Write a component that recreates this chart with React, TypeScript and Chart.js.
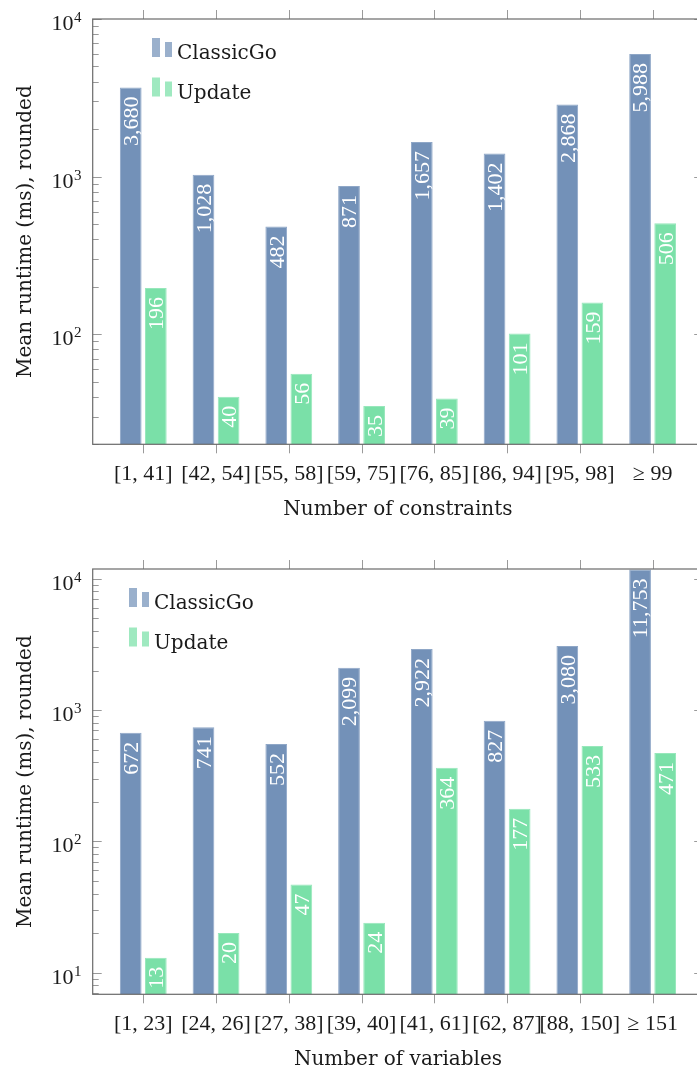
import React, { useEffect, useRef } from 'react';
import { Chart, registerables } from 'chart.js';

Chart.register(...registerables);

// ---------- data ----------
const seriesNames = ['ClassicGo', 'Update'];

const constraintLabels = ['[1, 41]', '[42, 54]', '[55, 58]', '[59, 75]', '[76, 85]', '[86, 94]', '[95, 98]', '≥ 99'];
const constraintsClassicGo = [3680, 1028, 482, 871, 1657, 1402, 2868, 5988];
const constraintsUpdate = [196, 40, 56, 35, 39, 101, 159, 506];

const variableLabels = ['[1, 23]', '[24, 26]', '[27, 38]', '[39, 40]', '[41, 61]', '[62, 87]', '[88, 150]', '≥ 151'];
const variablesClassicGo = [672, 741, 552, 2099, 2922, 827, 3080, 11753];
const variablesUpdate = [13, 20, 47, 24, 364, 177, 533, 471];

const yTitle = 'Mean runtime (ms), rounded';

// ---------- style ----------
const BLUE = '#7391B8';
const BLUE_EDGE = '#8FA7C7';
const GREEN = '#7AE0A8';
const GREEN_EDGE = '#97E7BB';
const TEXT = '#1a1a1a';
const FRAME = '#6a6a6a';
const TICK = '#9a9a9a';
const CANVAS_W = 712;

type Panel = {
  labels: string[];
  classic: number[];
  update: number[];
  yMin: number;
  yMax: number;
  xTitle: string;
  height: number;
  padTop: number;
  xAxisHeight: number;
  xTitleBottom: number;
  legendDx: number;
};

function decorPlugin(p: Panel) {
  return {
    id: 'decor',
    afterDatasetsDraw(chart: any) {
      const ctx = chart.ctx;
      ctx.save();
      ctx.fillStyle = '#ffffff';
      ctx.font = '22px "Liberation Serif"';
      ctx.textAlign = 'right';
      ctx.textBaseline = 'alphabetic';
      chart.data.datasets.forEach((ds: any, di: number) => {
        const meta = chart.getDatasetMeta(di);
        meta.data.forEach((bar: any, i: number) => {
          const v = ds.data[i].y as number;
          const text = v.toLocaleString('en-US');
          ctx.save();
          ctx.translate(bar.x + 7.4, bar.y + 9);
          ctx.rotate(-Math.PI / 2);
          ctx.fillText(text, 0, 0);
          ctx.restore();
        });
      });
      ctx.restore();
    },
    afterDraw(chart: any) {
      const { ctx, chartArea: a, scales } = chart;
      const ys = scales.y;
      const xs = scales.x;
      ctx.save();
      // ticks
      ctx.strokeStyle = TICK;
      ctx.lineWidth = 1;
      ctx.beginPath();
      const lo = Math.floor(Math.log10(p.yMin));
      const hi = Math.ceil(Math.log10(p.yMax));
      for (let e = lo; e <= hi; e++) {
        for (let m = 1; m <= 9; m++) {
          const v = m * Math.pow(10, e);
          if (v < p.yMin || v > p.yMax * 1.0001) continue;
          const py = Math.round(ys.getPixelForValue(v)) + 0.5;
          const len = m === 1 ? 9 : 6;
          ctx.moveTo(a.left, py);
          ctx.lineTo(a.left + len, py);
          ctx.moveTo(a.right, py);
          ctx.lineTo(a.right - len, py);
        }
      }
      for (let i = 0; i < p.labels.length; i++) {
        const px = Math.round(xs.getPixelForValue(i)) + 0.5;
        ctx.moveTo(px, a.top);
        ctx.lineTo(px, a.top - 9);
        ctx.moveTo(px, a.bottom);
        ctx.lineTo(px, a.bottom + 9);
      }
      ctx.stroke();
      // frame
      ctx.strokeStyle = FRAME;
      ctx.lineWidth = 1.2;
      ctx.strokeRect(a.left, a.top, a.right - a.left, a.bottom - a.top);
      // y tick labels (10^e)
      ctx.fillStyle = TEXT;
      ctx.textBaseline = 'alphabetic';
      for (let e = lo; e <= hi; e++) {
        const v = Math.pow(10, e);
        if (v < p.yMin || v > p.yMax * 1.0001) continue;
        const py = ys.getPixelForValue(v);
        ctx.font = '22px "Liberation Serif"';
        ctx.textAlign = 'right';
        ctx.fillText('10', a.left - 19.2, py + 11);
        ctx.font = '15px "Liberation Serif"';
        ctx.textAlign = 'left';
        ctx.fillText(String(e), a.left - 18.7, py + 3);
      }
      // legend
      const lx = a.left + p.legendDx;
      chart.data.datasets.forEach((ds: any, k: number) => {
        const bottom = a.top + 38 + k * 39.5;
        const col = k === 0 ? BLUE : GREEN;
        ctx.globalAlpha = 0.72;
        ctx.fillStyle = col;
        ctx.fillRect(lx, bottom - 19, 8, 19);
        ctx.fillRect(lx + 13, bottom - 15, 7, 15);
        ctx.globalAlpha = 1;
        ctx.fillStyle = TEXT;
        ctx.font = '20px "DejaVu Serif"';
        ctx.textAlign = 'left';
        ctx.fillText(ds.label, lx + 25, bottom + 2);
      });
      ctx.restore();
    },
  };
}

function buildConfig(p: Panel): any {
  const mk = (vals: number[]) => p.labels.map((_, i) => ({ x: i, y: vals[i] }));
  return {
    type: 'bar',
    data: {
      datasets: [
        {
          label: seriesNames[0],
          data: mk(p.classic),
          backgroundColor: BLUE,
          borderColor: BLUE_EDGE,
          borderWidth: 1,
          categoryPercentage: 0.69,
          barPercentage: 0.865,
        },
        {
          label: seriesNames[1],
          data: mk(p.update),
          backgroundColor: GREEN,
          borderColor: GREEN_EDGE,
          borderWidth: 1,
          categoryPercentage: 0.69,
          barPercentage: 0.865,
        },
      ],
    },
    options: {
      responsive: false,
      animation: false,
      devicePixelRatio: 1,
      layout: { padding: { top: p.padTop, right: 8.8, left: 0, bottom: 0 } },
      plugins: { legend: { display: false }, tooltip: { enabled: false } },
      scales: {
        x: {
          type: 'linear',
          min: -0.695,
          max: 7.695,
          offset: false,
          grid: { display: false, drawTicks: false, offset: false },
          border: { display: false },
          afterBuildTicks: (s: any) => {
            s.ticks = p.labels.map((_, i) => ({ value: i }));
          },
          afterFit: (s: any) => {
            s.height = p.xAxisHeight;
          },
          ticks: {
            autoSkip: false,
            maxRotation: 0,
            minRotation: 0,
            padding: 17,
            color: TEXT,
            font: { family: 'Liberation Serif', size: 22 },
            callback: (v: any) => p.labels[v] ?? '',
          },
          title: {
            display: true,
            text: p.xTitle,
            color: TEXT,
            font: { family: 'DejaVu Serif', size: 20 },
            padding: { top: 0, bottom: p.xTitleBottom },
          },
        },
        y: {
          type: 'logarithmic',
          min: p.yMin,
          max: p.yMax,
          grid: { display: false, drawTicks: false },
          border: { display: false },
          ticks: { display: false },
          afterFit: (s: any) => {
            s.width = 92.7;
          },
          title: {
            display: true,
            text: yTitle,
            color: TEXT,
            font: { family: 'DejaVu Serif', size: 20 },
            padding: { top: 13.7, bottom: 0 },
          },
        },
      },
    },
    plugins: [decorPlugin(p)],
  };
}

const panel1: Panel = {
  labels: constraintLabels,
  classic: constraintsClassicGo,
  update: constraintsUpdate,
  yMin: 20,
  yMax: 10000,
  xTitle: 'Number of constraints',
  height: 535,
  padTop: 19,
  xAxisHeight: 535 - 444.3,
  xTitleBottom: 13,
  legendDx: 59.3,
};

const panel2: Panel = {
  labels: variableLabels,
  classic: variablesClassicGo,
  update: variablesUpdate,
  yMin: 6.84,
  yMax: 11860,
  xTitle: 'Number of variables',
  height: 540,
  padTop: 34,
  xAxisHeight: 1075 - 994.3,
  xTitleBottom: 3,
  legendDx: 36.3,
};

function BarPanel({ panel, top }: { panel: Panel; top: number }) {
  const ref = useRef<HTMLCanvasElement | null>(null);
  useEffect(() => {
    if (!ref.current) return;
    const chart = new Chart(ref.current, buildConfig(panel));
    return () => chart.destroy();
  }, [panel]);
  return (
    <canvas
      ref={ref}
      width={CANVAS_W}
      height={panel.height}
      style={{ position: 'absolute', left: 0, top, display: 'block' }}
    />
  );
}

export default function App() {
  return (
    <div
      style={{
        position: 'absolute',
        left: 0,
        top: 0,
        width: 697,
        height: 1075,
        overflow: 'hidden',
        background: '#ffffff',
      }}
    >
      <BarPanel panel={panel1} top={0} />
      <BarPanel panel={panel2} top={535} />
    </div>
  );
}
